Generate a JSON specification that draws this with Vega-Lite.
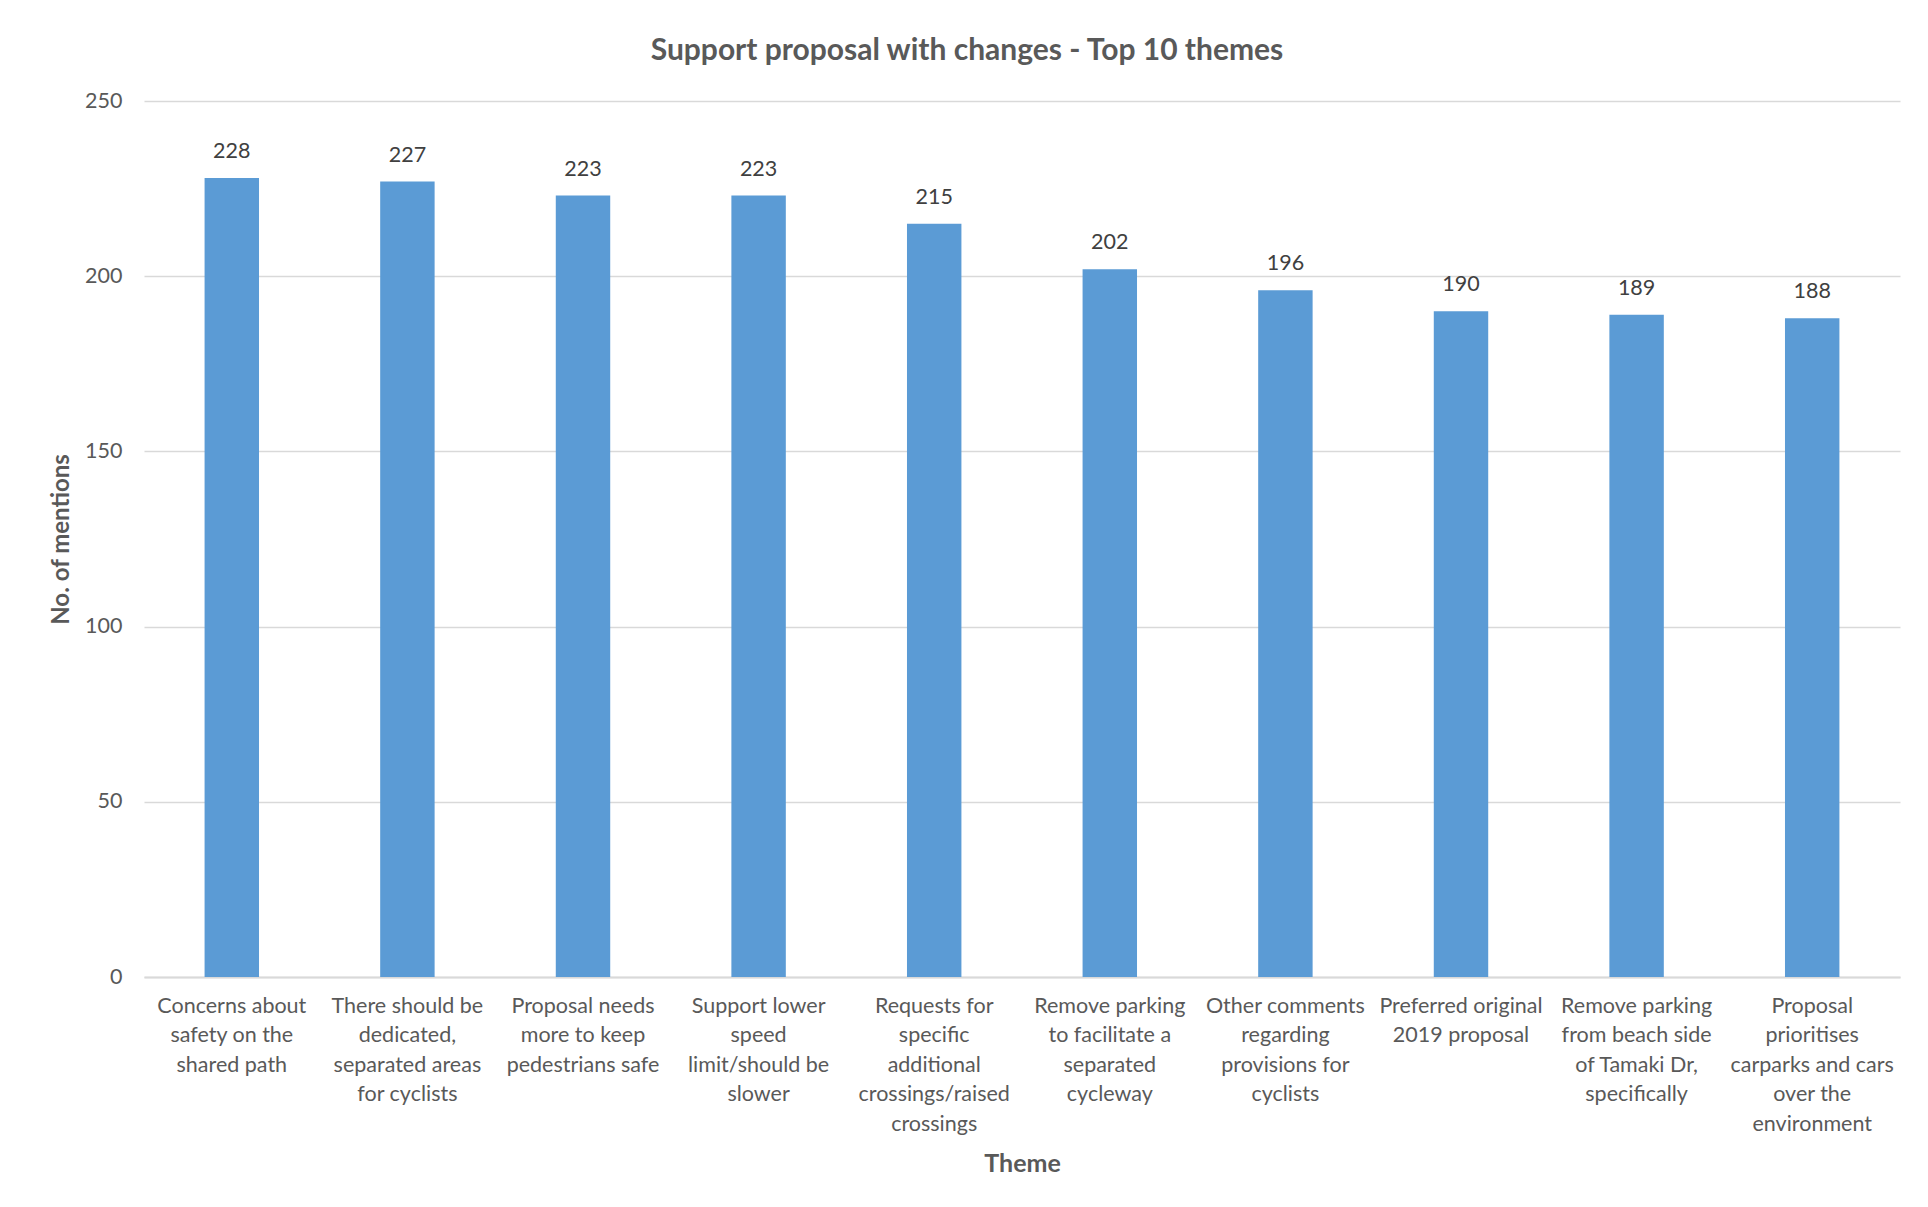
{
  "$schema": "https://vega.github.io/schema/vega-lite/v6.json",
  "autosize": "none",
  "width": 1756,
  "height": 876,
  "padding": {"left": 144, "top": 101, "right": 28, "bottom": 230},
  "background": "white",
  "config": {
    "font": "Lato",
    "view": {"stroke": null}
  },
  "title": {
    "text": "Support proposal with changes - Top 10 themes",
    "fontSize": 30,
    "fontWeight": "bold",
    "color": "#595959",
    "font": "Lato",
    "anchor": "middle",
    "dx": -55,
    "offset": 24
  },
  "data": {
    "values": [
      {"theme": "Concerns about|safety on the|shared path", "mentions": 228},
      {"theme": "There should be|dedicated,|separated areas|for cyclists", "mentions": 227},
      {"theme": "Proposal needs|more to keep|pedestrians safe", "mentions": 223},
      {"theme": "Support lower|speed|limit/should be|slower", "mentions": 223},
      {"theme": "Requests for|specific|additional|crossings/raised|crossings", "mentions": 215},
      {"theme": "Remove parking|to facilitate a|separated|cycleway", "mentions": 202},
      {"theme": "Other comments|regarding|provisions for|cyclists", "mentions": 196},
      {"theme": "Preferred original|2019 proposal", "mentions": 190},
      {"theme": "Remove parking|from beach side|of Tamaki Dr,|specifically", "mentions": 189},
      {"theme": "Proposal|prioritises|carparks and cars|over the|environment", "mentions": 188}
    ]
  },
  "encoding": {
    "x": {
      "field": "theme",
      "type": "nominal",
      "sort": null,
      "scale": {"paddingInner": 0.69, "paddingOuter": 0.345},
      "axis": {
        "title": "Theme",
        "titleFontSize": 25,
        "titleFontWeight": "bold",
        "titleColor": "#595959",
        "titleY": 186,
        "titleBaseline": "middle",
        "labelExpr": "split(datum.value, '|')",
        "labelAngle": 0,
        "labelFontSize": 21.5,
        "labelColor": "#595959",
        "labelLineHeight": 29.5,
        "labelPadding": 18,
        "labelBaseline": "top",
        "labelLimit": 400,
        "ticks": false,
        "domainColor": "#D9D9D9",
        "domainWidth": 2
      }
    },
    "y": {
      "field": "mentions",
      "type": "quantitative",
      "scale": {"domain": [0, 250]},
      "axis": {
        "title": "No. of mentions",
        "titleFontSize": 24,
        "titleFontWeight": "bold",
        "titleColor": "#595959",
        "titleX": -83,
        "titleY": 438,
        "titleAngle": -90,
        "titleAlign": "center",
        "titleBaseline": "middle",
        "values": [0, 50, 100, 150, 200, 250],
        "labelFontSize": 21.5,
        "labelColor": "#595959",
        "labelPadding": 22,
        "ticks": false,
        "domain": false,
        "gridColor": "#D9D9D9",
        "gridWidth": 1.5
      }
    }
  },
  "layer": [
    {"mark": {"type": "bar", "color": "#5B9BD5"}},
    {
      "mark": {"type": "text", "baseline": "middle", "dy": -26, "fontSize": 21.5, "color": "#404040"},
      "encoding": {"text": {"field": "mentions", "type": "quantitative"}}
    }
  ]
}
